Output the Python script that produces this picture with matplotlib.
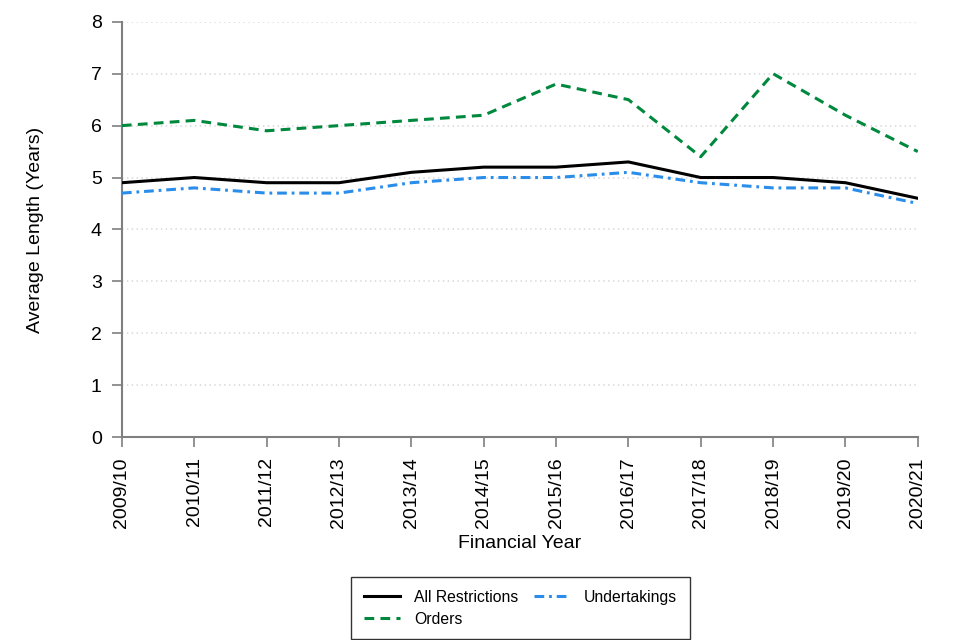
import matplotlib
matplotlib.use('Agg')
import matplotlib.pyplot as plt

# financial years and average length of restriction (years)
years = ['2009/10', '2010/11', '2011/12', '2012/13', '2013/14', '2014/15',
         '2015/16', '2016/17', '2017/18', '2018/19', '2019/20', '2020/21']
all_restrictions = [4.9, 5.0, 4.9, 4.9, 5.1, 5.2, 5.2, 5.3, 5.0, 5.0, 4.9, 4.6]
orders = [6.0, 6.1, 5.9, 6.0, 6.1, 6.2, 6.8, 6.5, 5.4, 7.0, 6.2, 5.5]
undertakings = [4.7, 4.8, 4.7, 4.7, 4.9, 5.0, 5.0, 5.1, 4.9, 4.8, 4.8, 4.5]

plt.rcParams['font.family'] = ['Liberation Sans', 'DejaVu Sans']
plt.rcParams['lines.scale_dashes'] = False

fig = plt.figure(figsize=(9.6, 6.4), dpi=100)
ax = fig.add_axes([0.127, 0.317, 0.829, 0.649])

x = list(range(len(years)))
ax.plot(x, all_restrictions, color='black', lw=2.2, label='All Restrictions', zorder=3)
ax.plot(x, orders, color='#00883D', lw=2.2, dashes=(7, 4.5), label='Orders', zorder=3)
ax.plot(x, undertakings, color='#2A8DEA', lw=2.2, dashes=(7, 3.5, 2, 3.5),
        label='Undertakings', zorder=3)

ax.set_xlim(0, len(years) - 1)
ax.set_ylim(0, 8)
ax.set_yticks(range(0, 9))
ax.set_xticks(x)
ax.set_xticklabels(years, rotation=90)

for s in ['top', 'right']:
    ax.spines[s].set_visible(False)
for s in ['left', 'bottom']:
    ax.spines[s].set_color('#7f7f7f')
    ax.spines[s].set_linewidth(1.5)
ax.tick_params(axis='both', colors='#7f7f7f', length=7.5, width=1.2,
               labelcolor='black', labelsize=14)
ax.tick_params(axis='x', pad=7)
ax.tick_params(axis='y', pad=7)

for v in range(1, 9):
    ax.axhline(v, color='#d9d9d9', lw=1.2, ls=(0, (1, 2.5)), zorder=1)

ax.set_ylabel('Average Length (Years)', fontsize=14, labelpad=34)
ax.set_xlabel('Financial Year', fontsize=14, labelpad=5)

leg = fig.legend(loc='center', ncol=2, fontsize=11.3, frameon=True, fancybox=False,
                 handlelength=2.3, handletextpad=0.9, columnspacing=1.0,
                 borderpad=0.8, labelspacing=0.45)
leg.set_bbox_to_anchor((0.542, 0.0495), transform=fig.transFigure)
leg.get_frame().set_edgecolor('black')
leg.get_frame().set_linewidth(1.0)

fig.savefig('out.png', dpi=100)
